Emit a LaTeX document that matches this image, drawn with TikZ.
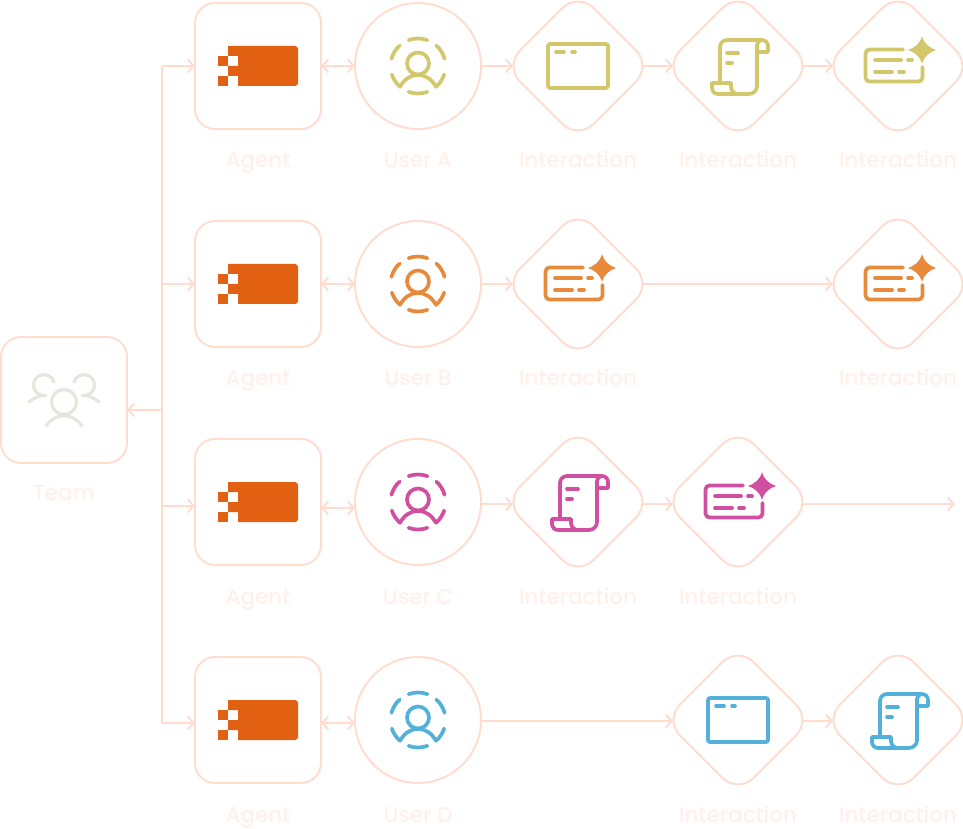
\documentclass[tikz,border=0pt]{standalone}
\usepackage{xcolor}
\usepackage{fontspec}
\setmainfont{Poppins Medium}
\usepackage{tikz}
\usetikzlibrary{arrows.meta,positioning,shapes.geometric,calc}
\definecolor{wire}{HTML}{FFDCCD}
\definecolor{lbltext}{HTML}{FFF0EA}
\definecolor{ember}{HTML}{E26012}
\definecolor{mist}{HTML}{E6E6DC}
\definecolor{gold}{HTML}{D2C76B}
\definecolor{tangerine}{HTML}{E88A3C}
\definecolor{magenta}{HTML}{D04FA0}
\definecolor{sky}{HTML}{52B0DA}
\tikzset{
  iconline/.style={line width=3.7pt, line cap=round, line join=round},
  pics/agenticon/.style={code={
    \fill[ember] (-30,20) -- (37,20) arc (90:0:3) -- (40,-17) arc (0:-90:3) -- (-20,-20) -- (-20,-10)
      -- (-30,-10) -- (-30,0) -- (-20,0) -- (-20,10) -- (-30,10) -- cycle;
    \fill[ember] (-40,0) rectangle (-30,10);
    \fill[ember] (-40,-20) rectangle (-30,-10);
  }},
  pics/usericon/.style={code={
    \draw[iconline, draw=#1] (0,2.5) circle (11);
    \draw[iconline, draw=#1] (70:27.5) arc (70:110:27.5);
    \draw[iconline, draw=#1] (132:27.5) arc (132:165:27.5);
    \draw[iconline, draw=#1] (15:27.5) arc (15:48:27.5);
    \draw[iconline, draw=#1] (250:27.5) arc (250:290:27.5);
    \draw[iconline, draw=#1] (198:27.5) arc (198:229:27.5) to[out=58, in=180] (0,-9) to[out=0, in=122] (311:27.5) arc (311:342:27.5);
  }},
  pics/windowicon/.style={code={
    \draw[iconline, draw=#1, rounded corners=2pt] (-30,-22) rectangle (30,22);
    \draw[iconline, draw=#1] (-22,14) -- (-14,14);
    \draw[iconline, draw=#1] (-6,14) -- (-3,14);
  }},
  pics/scrollicon/.style={code={
    \draw[iconline, draw=#1] (-18,-17) -- (-18,19) arc (180:90:7) -- (24,26) arc (90:0:6) -- (30,14) -- (19,14);
    \draw[iconline, draw=#1] (24,26) arc (90:180:5) -- (19,-20) arc (0:-90:8) -- (-20,-28) arc (270:180:6)
      -- (-26,-17) -- (-7,-17) -- (-7,-21) arc (180:270:7) -- (11,-28);
    \draw[iconline, draw=#1] (-11,13) -- (0,13);
    \draw[iconline, draw=#1] (-11,3) -- (-6,3);
  }},
  pics/cardicon/.style={code={
    \draw[iconline, draw=#1, rounded corners=4pt] (5,16.5) -- (-32.5,16.5) -- (-32.5,-15.5) -- (24.5,-15.5) -- (24.5,-1);
    \draw[iconline, draw=#1] (-23,6) -- (3,6);
    \draw[iconline, draw=#1] (10,6) -- (14,6);
    \draw[iconline, draw=#1] (-23,-6) -- (-6,-6);
    \draw[iconline, draw=#1] (1,-6) -- (6,-6);
    \fill[#1] (24,30) .. controls (26,22) and (32,18) .. (38,16) .. controls (32,14) and (26,10) .. (24,2)
      .. controls (22,10) and (16,14) .. (10,16) .. controls (16,18) and (22,22) .. (24,30) -- cycle;
  }},
  pics/teamicon/.style={code={
    \draw[iconline, line width=3.2pt, draw=mist] (0,-2) circle (12.5);
    \draw[iconline, line width=3.2pt, draw=mist] (-18,-26) to[out=55, in=180] (0,-16) to[out=0, in=125] (18,-26);
    \draw[iconline, line width=3.2pt, draw=mist] (-10,18) arc (17:280:10.5);
    \draw[iconline, line width=3.2pt, draw=mist] (10,18) arc (163:-100:10.5);
    \draw[iconline, line width=3.2pt, draw=mist] (-35,-2) to[out=40, in=190] (-19,5);
    \draw[iconline, line width=3.2pt, draw=mist] (35,-2) to[out=140, in=-10] (19,5);
  }},
}
\begin{document}
\begin{tikzpicture}[
  x=1pt, y=1pt,
  roundbox/.style={draw=wire, line width=1.9pt, rounded corners=20pt, minimum size=126pt, inner sep=0pt, outer sep=0pt},
  userdisc/.style={draw=wire, line width=1.9pt, circle, minimum size=126pt, inner sep=0pt, outer sep=0pt},
  stepdia/.style={draw=wire, line width=1.9pt, diamond, rounded corners=22pt, minimum size=147pt, inner sep=0pt, outer sep=0pt},
  lbl/.style={anchor=base, text=lbltext, font=\fontsize{21.5}{26}\selectfont, inner sep=0pt},
  link/.style={-{Straight Barb[length=6pt, width=13pt]}, line width=1.9pt, draw=wire},
  bilink/.style={{Straight Barb[length=6pt, width=13pt]}-{Straight Barb[length=6pt, width=13pt]}, line width=1.9pt, draw=wire},
  intodia/.style={link, shorten >=-8.5pt},
  fromdia/.style={shorten <=-8.5pt},
]
\useasboundingbox (0,0) rectangle (963,828);
% team
\node[roundbox] (team) at (64,428) {};
\pic at (team) {teamicon};
\node[lbl] (lteam) at (64,328) {Team};
% agents
\node[roundbox] (ag1) at (258,762) {};
\node[roundbox] (ag2) at (258,544) {};
\node[roundbox] (ag3) at (258,326) {};
\node[roundbox] (ag4) at (258,108) {};
\foreach \n in {1,2,3,4} \pic at (ag\n) {agenticon};
\node[lbl] (lag1) at (258,660) {Agent};
\node[lbl] (lag2) at (258,442) {Agent};
\node[lbl] (lag3) at (258,224) {Agent};
\node[lbl] (lag4) at (258,6) {Agent};
% users
\node[userdisc] (us1) at (418,762) {};
\node[userdisc] (us2) at (418,544) {};
\node[userdisc] (us3) at (418,326) {};
\node[userdisc] (us4) at (418,108) {};
\pic at (us1) {usericon=gold};
\pic at (us2) {usericon=tangerine};
\pic at (us3) {usericon=magenta};
\pic at (us4) {usericon=sky};
\node[lbl] (lus1) at (418,660) {User A};
\node[lbl] (lus2) at (418,442) {User B};
\node[lbl] (lus3) at (418,224) {User C};
\node[lbl] (lus4) at (418,6) {User D};
% interactions
\node[stepdia] (a1) at (578,762) {};
\node[stepdia] (a2) at (738,762) {};
\node[stepdia] (a3) at (898,762) {};
\node[stepdia] (b1) at (578,544) {};
\node[stepdia] (b3) at (898,544) {};
\node[stepdia] (c1) at (578,326) {};
\node[stepdia] (c2) at (738,326) {};
\node[stepdia] (d2) at (738,108) {};
\node[stepdia] (d3) at (898,108) {};
\pic at (a1) {windowicon=gold};
\pic at (a2) {scrollicon=gold};
\pic at (a3) {cardicon=gold};
\pic at (b1) {cardicon=tangerine};
\pic at (b3) {cardicon=tangerine};
\pic at (c1) {scrollicon=magenta};
\pic at (c2) {cardicon=magenta};
\pic at (d2) {windowicon=sky};
\pic at (d3) {scrollicon=sky};
\foreach \n/\x/\y in {a1/578/660,a2/738/660,a3/898/660,b1/578/442,b3/898/442,c1/578/224,c2/738/224,d2/738/6,d3/898/6}
  \node[lbl] (l\n) at (\x,\y) {Interaction};
% trunk
\coordinate (tk1) at (162,762);
\coordinate (tk2) at (162,544);
\coordinate (tk3) at (162,322);
\coordinate (tk4) at (162,105);
\coordinate (tkteam) at (162,418);
\draw[draw=wire, line width=1.9pt] (tk1) -- (tk4);
\draw[link] (tkteam) -- (tkteam -| team.east);
\foreach \n in {1,2,3,4} \draw[link] (tk\n) -- (tk\n -| ag\n.west);
% agent to user
\coordinate (bi1) at (338,762);
\coordinate (bi2) at (338,544);
\coordinate (bi3) at (338,320);
\coordinate (bi4) at (338,105);
\foreach \n in {1,2,3,4} \draw[bilink] (bi\n -| ag\n.east) -- (bi\n -| us\n.west);
% flows
\coordinate (fl3) at (500,324);
\coordinate (fl4) at (500,107);
\coordinate (endc) at (955,324);
\draw[intodia] (us1.east) -- (a1.west);
\draw[intodia, fromdia] (a1.east) -- (a2.west);
\draw[intodia, fromdia] (a2.east) -- (a3.west);
\draw[intodia] (us2.east) -- (b1.west);
\draw[intodia, fromdia] (b1.east) -- (b3.west);
\draw[intodia] (fl3 -| us3.east) -- (fl3 -| c1.west);
\draw[intodia, fromdia] (fl3 -| c1.east) -- (fl3 -| c2.west);
\draw[link, fromdia] (fl3 -| c2.east) -- (endc);
\draw[intodia] (fl4 -| us4.east) -- (fl4 -| d2.west);
\draw[intodia, fromdia] (fl4 -| d2.east) -- (fl4 -| d3.west);
\end{tikzpicture}
\end{document}
